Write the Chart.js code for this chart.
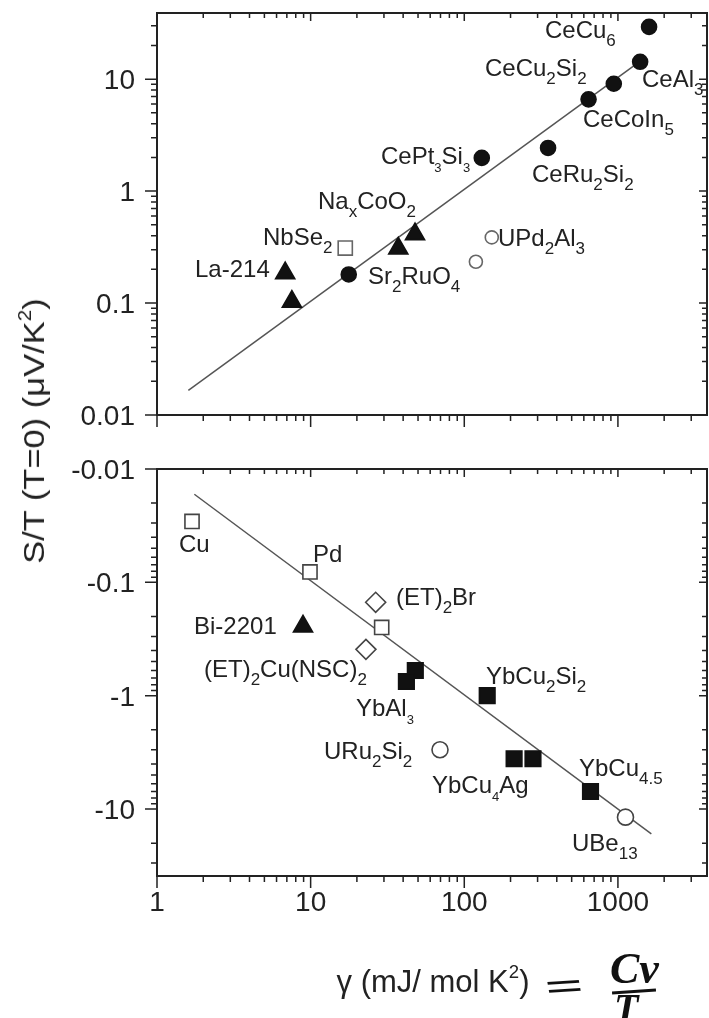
<!DOCTYPE html>
<html>
<head>
<meta charset="utf-8">
<title>S/T versus gamma</title>
<script src="https://cdn.jsdelivr.net/npm/chart.js@4.4.1/dist/chart.umd.min.js"></script>
<style>
  html, body { margin: 0; padding: 0; background: #fff; }
  #page { position: relative; width: 709px; height: 1018px; overflow: hidden;
          font-family: "Liberation Sans", Arial, sans-serif; color: #222; }
  .box { position: absolute; left: 0; width: 709px; }
  #topBox { top: 0; height: 440px; }
  #botBox { top: 440px; height: 578px; }
  .ytitle { position: absolute; left: 34px; top: 431px; white-space: nowrap; font-size: 30px;
            transform: translate(-50%, -50%) rotate(-90deg) scaleX(1.15); }
  .xtitle { position: absolute; left: 433px; top: 982px; white-space: nowrap; font-size: 31px;
            transform: translate(-50%, -50%); }
  sup { font-size: 0.6em; vertical-align: 0; position: relative; top: -0.75em; line-height: 0; }
  .hand { position: absolute; font-family: "Liberation Serif", serif; font-style: italic;
          font-weight: bold; color: #111; line-height: 1; white-space: nowrap; transform-origin: left top; }
  .bar { position: absolute; border-top: 3px solid #111; }
</style>
</head>
<body>
<div id="page">
  <div class="box" id="topBox"><canvas id="topChart"></canvas></div>
  <div class="box" id="botBox"><canvas id="botChart"></canvas></div>
  <div class="ytitle">S/T (T=0) (&mu;V/K<sup>2</sup>)</div>
  <div class="xtitle">&gamma; (mJ/ mol K<sup>2</sup>)</div>
  <div class="hand" style="left:541px; top:968px; font-size:40px; transform:scaleX(1.7) rotate(-6deg);">=</div>
  <div class="hand" style="left:610px; top:947px; font-size:44px;">Cv</div>
  <div class="bar" style="left:612px; top:990px; width:44px; transform:rotate(-4deg);"></div>
  <div class="hand" style="left:614px; top:988px; font-size:40px;">T</div>
</div>
<script>
// ---- data (gamma in mJ/mol K^2, S/T at T=0 in uV/K^2) ----
// top panel, positive S/T
const topFilledCircleGamma = [17.7, 130, 351, 644, 940, 1395, 1595];
const topFilledCircleST    = [0.18, 1.98, 2.43, 6.6, 9.1, 14.3, 29.3];
const topTriangleGamma = [6.83, 7.55, 37.2, 47.8];
const topTriangleST    = [0.185, 0.103, 0.308, 0.413];
const topOpenSquareGamma = [16.8];
const topOpenSquareST    = [0.31];
const topOpenCircleGamma = [119, 151];
const topOpenCircleST    = [0.234, 0.386];
const topFitGamma = [1.6, 1420];
const topFitST    = [0.0166, 14.7];

// bottom panel, negative S/T
const botOpenSquareGamma = [1.69, 9.9, 29.0];
const botOpenSquareST    = [-0.029, -0.081, -0.25];
const botOpenDiamondGamma = [26.5, 22.9];
const botOpenDiamondST    = [-0.15, -0.39];
const botTriangleGamma = [8.92];
const botTriangleST    = [-0.245];
const botFilledSquareGamma = [48.0, 42.0, 141, 211, 280, 663];
const botFilledSquareST    = [-0.60, -0.75, -1.0, -3.6, -3.6, -7.0];
const botOpenCircleGamma = [69.5, 1120];
const botOpenCircleST    = [-3.0, -11.8];
const botFitGamma = [1.75, 1650];
const botFitST    = [-0.0167, -16.6];

// axes
const xRange = [1, 3800];
const yRange = [0.01, 39];
const xTickLabels = ['1', '10', '100', '1000'];
const topTickLabels = ['0.01', '0.1', '1', '10'];
const botTickLabels = ['-0.01', '-0.1', '-1', '-10'];

// compound names ( _x = subscript )
const topNames = ['CeCu_6', 'CeCu_2Si_2', 'CeAl_3', 'CeCoIn_5', 'CeRu_2Si_2', 'CePt_3Si_3',
                  'Na_xCoO_2', 'NbSe_2', 'La-214', 'Sr_2RuO_4', 'UPd_2Al_3'];
const botNames = ['Cu', 'Pd', '(ET)_2Br', 'Bi-2201', '(ET)_2Cu(NSC)_2', 'YbCu_2Si_2', 'YbAl_3',
                  'URu_2Si_2', 'YbCu_4Ag', 'YbCu_{4.5}', 'UBe_{13}'];

// where each name sits on the page (left x, baseline y) and if its subscripts are tiny
const topNameSpots = [[545, 38], [485, 76], [642, 87], [583, 127], [532, 182], [381, 164, 1],
                      [318, 209], [263, 245], [195, 277], [368, 284], [498, 246]];
const botNameSpots = [[179, 552], [313, 562], [396, 605], [194, 634], [204, 677], [486, 684],
                      [356, 716, 1], [324, 759], [432, 793, 1], [579, 776], [572, 851]];

const INK = '#222';
const FONT = '"Liberation Sans", Arial, sans-serif';

function pts(gx, sy) {
  return gx.map((g, i) => ({ x: g, y: Math.abs(sy[i]) }));
}

function parseRich(s) {
  const segs = [];
  let i = 0;
  while (i < s.length) {
    if (s[i] === '_') {
      let t;
      if (s[i + 1] === '{') {
        const j = s.indexOf('}', i);
        t = s.slice(i + 2, j);
        i = j + 1;
      } else {
        t = s[i + 1];
        i += 2;
      }
      segs.push({ t, sub: true });
    } else {
      let j = i;
      while (j < s.length && s[j] !== '_') j++;
      segs.push({ t: s.slice(i, j), sub: false });
      i = j;
    }
  }
  return segs;
}

function drawRich(ctx, s, x, y, size, subSize) {
  let cx = x;
  parseRich(s).forEach(seg => {
    ctx.font = (seg.sub ? subSize : size) + 'px ' + FONT;
    ctx.fillText(seg.t, cx, seg.sub ? y + size * 0.35 : y);
    cx += ctx.measureText(seg.t).width;
  });
}

function logTicks(min, max) {
  const out = [];
  const e0 = Math.floor(Math.log10(min));
  const e1 = Math.ceil(Math.log10(max));
  for (let e = e0; e <= e1; e++) {
    for (let k = 1; k < 10; k++) {
      const v = k * Math.pow(10, e);
      if (v >= min * 0.9999 && v <= max * 1.0001) out.push({ v, major: k === 1 });
    }
  }
  return out;
}

// frame, ticks on four sides, tick labels and compound names
const paperFrame = {
  id: 'paperFrame',
  afterDraw(chart, args, opts) {
    const { ctx, chartArea: a } = chart;
    const xs = chart.scales.x, ys = chart.scales.y;
    ctx.save();
    ctx.strokeStyle = INK;
    ctx.fillStyle = INK;
    ctx.lineWidth = 1.5;
    ctx.beginPath();
    logTicks(xs.min, xs.max).forEach(t => {
      const px = xs.getPixelForValue(t.v);
      const out = t.major ? 12 : 6, inn = t.major ? 8 : 5;
      ctx.moveTo(px, a.bottom); ctx.lineTo(px, a.bottom + out);
      ctx.moveTo(px, a.top); ctx.lineTo(px, a.top + inn);
    });
    logTicks(ys.min, ys.max).forEach(t => {
      const py = ys.getPixelForValue(t.v);
      const out = t.major ? 12 : 6, inn = t.major ? 8 : 5;
      ctx.moveTo(a.left, py); ctx.lineTo(a.left - out, py);
      ctx.moveTo(a.right, py); ctx.lineTo(a.right - inn, py);
    });
    ctx.stroke();
    ctx.lineWidth = 2;
    ctx.strokeRect(a.left, a.top, a.right - a.left, a.bottom - a.top);

    // y tick labels
    ctx.font = '28px ' + FONT;
    ctx.textAlign = 'right';
    ctx.textBaseline = 'alphabetic';
    opts.yLabels.forEach(lbl => {
      const py = ys.getPixelForValue(Math.abs(parseFloat(lbl)));
      ctx.fillText(lbl, 135, py + 10);
    });
    // x tick labels
    if (opts.xLabels) {
      ctx.textAlign = 'center';
      opts.xLabels.forEach(lbl => {
        const px = xs.getPixelForValue(parseFloat(lbl));
        ctx.fillText(lbl, px, 901 - opts.top + 10);
      });
    }
    // compound names
    ctx.textAlign = 'left';
    opts.names.forEach((n, i) => {
      const sp = opts.spots[i];
      drawRich(ctx, n, sp[0], sp[1] - opts.top, 24, sp[2] ? 13 : 17);
    });
    ctx.restore();
  }
};

function scatterSet(data, style, radius, fill, border) {
  return {
    data, showLine: false, pointStyle: style, pointRadius: radius,
    pointBackgroundColor: fill, pointBorderColor: border, pointBorderWidth: 1.6
  };
}

function fitSet(data) {
  return {
    data, showLine: true, pointRadius: 0, borderColor: '#555', borderWidth: 1.5, fill: false
  };
}

function baseOptions(padding, frameOpts, reverse) {
  return {
    responsive: true,
    maintainAspectRatio: false,
    animation: false,
    events: [],
    layout: { padding, autoPadding: false },
    scales: {
      x: { type: 'logarithmic', min: xRange[0], max: xRange[1], display: false },
      y: { type: 'logarithmic', min: yRange[0], max: yRange[1], reverse, display: false }
    },
    plugins: {
      legend: { display: false },
      tooltip: { enabled: false },
      paperFrame: frameOpts
    }
  };
}

new Chart(document.getElementById('topChart'), {
  type: 'scatter',
  data: {
    datasets: [
      scatterSet(pts(topFilledCircleGamma, topFilledCircleST), 'circle', 7.5, '#111', '#111'),
      scatterSet(pts(topTriangleGamma, topTriangleST), 'triangle', 11, '#111', '#111'),
      scatterSet(pts(topOpenSquareGamma, topOpenSquareST), 'rect', 10, '#fff', '#666'),
      scatterSet(pts(topOpenCircleGamma, topOpenCircleST), 'circle', 6.5, '#fff', '#666'),
      fitSet(pts(topFitGamma, topFitST))
    ]
  },
  options: baseOptions({ left: 157, right: 2, top: 13, bottom: 25 },
    { yLabels: topTickLabels, names: topNames, spots: topNameSpots, top: 0 }, false),
  plugins: [paperFrame]
});

new Chart(document.getElementById('botChart'), {
  type: 'scatter',
  data: {
    datasets: [
      scatterSet(pts(botOpenSquareGamma, botOpenSquareST), 'rect', 10, '#fff', '#444'),
      scatterSet(pts(botOpenDiamondGamma, botOpenDiamondST), 'rectRot', 10, '#fff', '#444'),
      scatterSet(pts(botTriangleGamma, botTriangleST), 'triangle', 11, '#111', '#111'),
      scatterSet(pts(botFilledSquareGamma, botFilledSquareST), 'rect', 11, '#111', '#111'),
      scatterSet(pts(botOpenCircleGamma, botOpenCircleST), 'circle', 8, '#fff', '#444'),
      fitSet(pts(botFitGamma, botFitST))
    ]
  },
  options: baseOptions({ left: 157, right: 2, top: 29, bottom: 142 },
    { yLabels: botTickLabels, xLabels: xTickLabels, names: botNames, spots: botNameSpots, top: 440 }, true),
  plugins: [paperFrame]
});
</script>
</body>
</html>
